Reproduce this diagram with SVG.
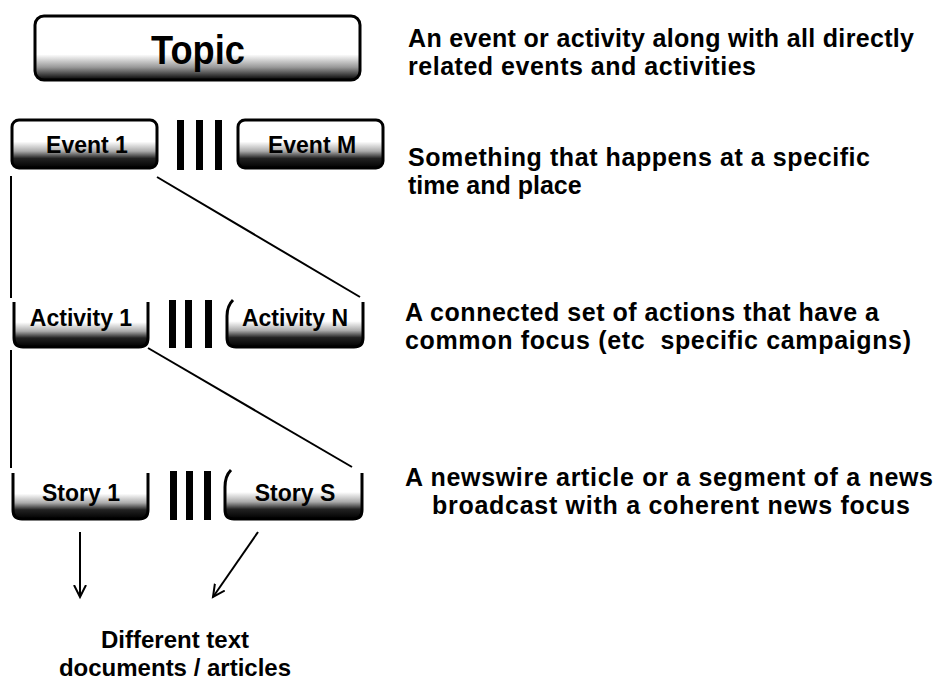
<svg xmlns="http://www.w3.org/2000/svg" width="941" height="683" viewBox="0 0 941 683">
<defs>
<style>
.box{stroke:#000;stroke-width:3;fill:url(#g)}
.topic{stroke:#000;stroke-width:3;fill:url(#gt)}
.lbl{font-family:"Liberation Sans",Arial,sans-serif;font-weight:bold;font-size:23px;fill:#000;text-anchor:middle}
.desc{font-family:"Liberation Sans",Arial,sans-serif;font-weight:bold;font-size:25px;fill:#000;white-space:pre}
.bot{font-family:"Liberation Sans",Arial,sans-serif;font-weight:bold;font-size:24px;fill:#000;text-anchor:middle}
.bar{fill:#000}
.conn{stroke:#000;stroke-width:2;fill:none}
</style>
<linearGradient id="g" x1="0" y1="0" x2="0" y2="1">
<stop offset="0" stop-color="#fff"/>
<stop offset="0.45" stop-color="#fff"/>
<stop offset="0.65" stop-color="#aaa"/>
<stop offset="0.8" stop-color="#222"/>
<stop offset="1" stop-color="#000"/>
</linearGradient>
<linearGradient id="gt" x1="0" y1="0" x2="0" y2="1">
<stop offset="0" stop-color="#fff"/>
<stop offset="0.6" stop-color="#fff"/>
<stop offset="0.8" stop-color="#999"/>
<stop offset="1" stop-color="#000"/>
</linearGradient>
<marker id="arr" markerWidth="16" markerHeight="16" refX="12" refY="7" orient="auto" markerUnits="userSpaceOnUse">
<polyline points="0,1 12,7 0,13" fill="none" stroke="#000" stroke-width="2"/>
</marker>
</defs>
<rect width="941" height="683" fill="#fff"/>

<g id="topic">
<rect class="topic" x="35" y="16" width="325" height="64" rx="9"/>
<text x="198" y="64" font-family="Liberation Sans,Arial,sans-serif" font-weight="bold" font-size="40" text-anchor="middle" textLength="94" lengthAdjust="spacingAndGlyphs">Topic</text>
</g>

<g id="event1">
<rect class="box" x="12" y="120" width="145" height="48" rx="7"/>
<text class="lbl" x="87" y="153">Event 1</text>
</g>
<g id="eventbars">
<rect class="bar" x="177" y="120" width="7" height="50"/>
<rect class="bar" x="196" y="120" width="7" height="50"/>
<rect class="bar" x="215" y="120" width="7" height="50"/>
</g>
<g id="eventM">
<rect class="box" x="238" y="120" width="145" height="48" rx="7"/>
<text class="lbl" x="312" y="153">Event M</text>
</g>

<g id="activity1">
<path class="box" d="M14 302 L14 338 Q14 347 23 347 L139 347 Q148 347 148 338 L148 302"/>
<text class="lbl" x="81" y="326">Activity 1</text>
</g>
<g id="activitybars">
<rect class="bar" x="169" y="300" width="7" height="48"/>
<rect class="bar" x="185" y="300" width="7" height="48"/>
<rect class="bar" x="205" y="300" width="7" height="48"/>
</g>
<g id="activityN">
<path class="box" d="M233 300 Q227 306 227 316 L227 338 Q227 347 236 347 L354 347 Q363 347 363 338 L363 302"/>
<text class="lbl" x="295" y="326">Activity N</text>
</g>

<g id="story1">
<path class="box" d="M13 473 L13 510 Q13 519 22 519 L139 519 Q148 519 148 510 L148 473"/>
<text class="lbl" x="81" y="501">Story 1</text>
</g>
<g id="storybars">
<rect class="bar" x="170" y="471" width="7" height="49"/>
<rect class="bar" x="186" y="471" width="7" height="49"/>
<rect class="bar" x="204" y="471" width="7" height="49"/>
</g>
<g id="storyS">
<path class="box" d="M231 470 Q225 476 225 487 L225 510 Q225 519 234 519 L353 519 Q362 519 362 510 L362 473"/>
<text class="lbl" x="295" y="501">Story S</text>
</g>

<g id="connectors">
<line class="conn" x1="11" y1="176" x2="11" y2="298"/>
<line class="conn" x1="157" y1="177" x2="360" y2="297"/>
<line class="conn" x1="11" y1="350" x2="11" y2="468"/>
<line class="conn" x1="148" y1="348" x2="352" y2="467"/>
<line class="conn" x1="80" y1="532" x2="80" y2="597" marker-end="url(#arr)"/>
<line class="conn" x1="258" y1="532" x2="213" y2="597" marker-end="url(#arr)"/>
</g>

<g id="descriptions">
<text class="desc" x="408" y="47" textLength="506">An event or activity along with all directly</text>
<text class="desc" x="408" y="75" textLength="348">related events and activities</text>
<text class="desc" x="408" y="166" textLength="462">Something that happens at a specific</text>
<text class="desc" x="408" y="194">time and place</text>
<text class="desc" x="405" y="321" textLength="474">A connected set of actions that have a</text>
<text class="desc" x="405" y="349" textLength="506">common focus (etc  specific campaigns)</text>
<text class="desc" x="405" y="486" textLength="528">A newswire article or a segment of a news</text>
<text class="desc" x="432" y="514" textLength="478">broadcast with a coherent news focus</text>
</g>

<g id="documents">
<text class="bot" x="175" y="648">Different text</text>
<text class="bot" x="175" y="676">documents / articles</text>
</g>
</svg>
